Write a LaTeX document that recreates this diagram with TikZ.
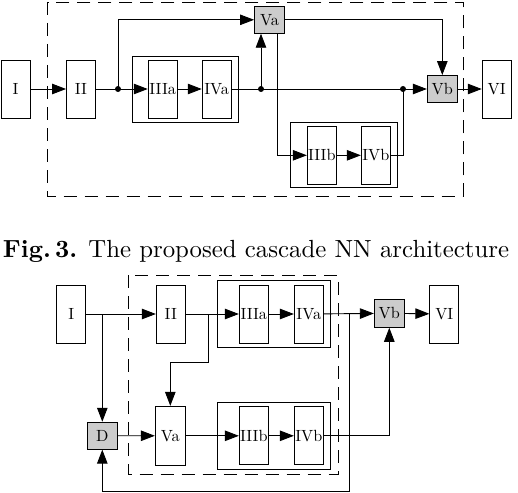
\documentclass[tikz,border=0pt]{standalone}
\usepackage{amsmath, amssymb, graphicx}
\usetikzlibrary{arrows.meta}

\newcommand{\lbl}[1]{\scalebox{1.62}{#1}}

\begin{document}
\begin{tikzpicture}[x=1pt, y=-1pt, line width=0.9pt,
    blk/.style={draw, fill=white, minimum width=29pt, minimum height=58pt, inner sep=0pt},
    small/.style={blk, fill=gray!40, minimum height=27pt, minimum width=30pt},
    group/.style={draw, inner sep=0pt},
    arr/.style={-{Triangle[length=14pt, width=10.5pt]}},
    dot/.style={circle, fill, inner sep=0pt, minimum size=6pt},
    frame/.style={dash pattern=on 13pt off 8pt}]
  \useasboundingbox (0, 0) rectangle (518, 492);

  % top: cascade
  \draw[frame] (47.7, 2) rectangle (463, 196);
  \node[group, minimum width=106.4pt, minimum height=65.6pt] (grpa) at (185.5, 89.5) {};
  \node[group, minimum width=107pt, minimum height=65pt] (grpb) at (343.8, 154.8) {};
  \node[blk] (I) at (15.5, 89) {\lbl{I}};
  \node[blk] (II) at (81, 89) {\lbl{II}};
  \node[blk] (IIIa) at (162.7, 89) {\lbl{IIIa}};
  \node[blk] (IVa) at (216.7, 89) {\lbl{IVa}};
  \node[small] (Va) at (269.5, 19.8) {\lbl{Va}};
  \node[small] (Vb) at (442.3, 89) {\lbl{Vb}};
  \node[blk] (VI) at (496.7, 89) {\lbl{VI}};
  \node[blk] (IIIb) at (321.8, 155.3) {\lbl{IIIb}};
  \node[blk] (IVb) at (375.8, 155.3) {\lbl{IVb}};
  \node[dot] (d1) at (118, 89) {};
  \node[dot] (d2) at (261, 89) {};
  \node[dot] (d3) at (403, 89) {};
  \coordinate (vaout) at ([xshift=7.8pt]Va.south);

  \draw[arr] (I) -- (II);
  \draw[arr] (II) -- (IIIa);
  \draw[arr] (IIIa) -- (IVa);
  \draw[arr] (IVa) -- (Vb);
  \draw[arr] (Vb) -- (VI);
  \draw[arr] (d1.center) |- (Va);
  \draw[arr] (d2.center) -- (d2 |- Va.south);
  \draw[arr] (Va) -| (Vb);
  \draw[arr] (vaout) |- (IIIb);
  \draw[arr] (IIIb) -- (IVb);
  \draw (IVb) -| (d3.center);

  % caption
  \node[anchor=base, inner sep=0pt] (cap) at (256, 257.7)
    {\resizebox{506pt}{!}{\textbf{Fig.\,3.} The proposed cascade NN architecture}};

  % bottom: with D
  \draw[frame] (128.3, 275.3) rectangle (338.3, 474);
  \node[group, minimum width=113.3pt, minimum height=67pt] (grpc) at (273.7, 313.8) {};
  \node[group, minimum width=113.3pt, minimum height=67pt] (grpd) at (273.7, 435.8) {};
  \node[blk] (Ib) at (71.2, 314) {\lbl{I}};
  \node[blk] (IIb) at (170.8, 314) {\lbl{II}};
  \node[blk] (IIIab) at (253.8, 314) {\lbl{IIIa}};
  \node[blk] (IVab) at (308.8, 314) {\lbl{IVa}};
  \node[small, minimum height=28pt] (Vbb) at (389.3, 313.3) {\lbl{Vb}};
  \node[blk] (VIb) at (444.3, 314) {\lbl{VI}};
  \node[small] (D) at (102.3, 435.7) {\lbl{D}};
  \node[blk, minimum width=30pt, minimum height=59pt] (Vab) at (170.3, 435.8) {\lbl{Va}};
  \node[blk] (IIIbb) at (253.8, 435.8) {\lbl{IIIb}};
  \node[blk] (IVbb) at (308.8, 435.8) {\lbl{IVb}};
  \coordinate (br1) at (D |- Ib);
  \coordinate (br2) at (208.3, 314);
  \coordinate (bend2) at (208.3, 362.3);
  \coordinate (br3) at (349.3, 313.3);
  \coordinate (low) at (349.3, 491);

  \draw[arr] (Ib) -- (IIb);
  \draw[arr] (br1) -- (D);
  \draw[arr] (IIb) -- (IIIab);
  \draw[arr] (br2) -- (bend2) -| (Vab);
  \draw[arr] (IIIab) -- (IVab);
  \draw[arr] (IVab) -- (Vbb);
  \draw[arr] (br3) -- (low) -| (D);
  \draw[arr] (Vbb) -- (VIb);
  \draw[arr] (D) -- (Vab);
  \draw[arr] (Vab) -- (IIIbb);
  \draw[arr] (IIIbb) -- (IVbb);
  \draw[arr] (IVbb) -| (Vbb);
\end{tikzpicture}
\end{document}
